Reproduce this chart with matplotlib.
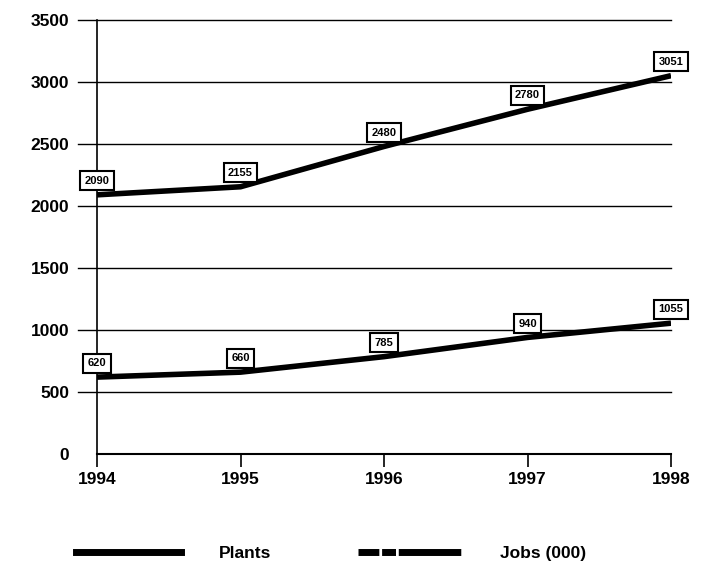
import matplotlib
matplotlib.use("Agg")
import matplotlib.pyplot as plt
from matplotlib.lines import Line2D

plt.rcParams['font.family'] = ['Liberation Sans', 'DejaVu Sans']

years = [1994, 1995, 1996, 1997, 1998]
plants = [2090, 2155, 2480, 2780, 3051]
jobs = [620, 660, 785, 940, 1055]
yticks = [0, 500, 1000, 1500, 2000, 2500, 3000, 3500]

fig = plt.figure(figsize=(7.05, 5.81), dpi=100)
ax = fig.add_axes([0.1376, 0.2186, 0.8142, 0.747])

# horizontal grid, extending a little left of the axis
for v in yticks[1:]:
    ax.plot([1993.87, 1998], [v, v], color='black', lw=1.0, clip_on=False, zorder=1)

ax.plot(years, plants, color='black', lw=4, solid_capstyle='butt', zorder=3)
ax.plot(years, jobs, color='black', lw=4, solid_capstyle='butt', zorder=3)

for series in (plants, jobs):
    for x, y in zip(years, series):
        ax.annotate(str(y), (x, y), xytext=(0, 10), textcoords='offset points',
                    ha='center', va='center', fontsize=8, fontweight='bold', zorder=4,
                    bbox=dict(boxstyle='square,pad=0.4', fc='white', ec='black', lw=1.5))

ax.set_xlim(1994, 1998)
ax.set_ylim(0, 3500)
ax.set_xticks(years)
ax.set_yticks(yticks)
ax.tick_params(axis='x', direction='out', length=9, width=1.2, pad=4, labelsize=12.5)
ax.tick_params(axis='y', length=0, pad=20, labelsize=12.5)
for lab in ax.get_xticklabels() + ax.get_yticklabels():
    lab.set_fontweight('bold')

for s in ['top', 'right']:
    ax.spines[s].set_visible(False)
ax.spines['left'].set_linewidth(1.2)
ax.spines['bottom'].set_linewidth(1.5)

handles = [Line2D([], [], color='black', lw=5),
           Line2D([], [], color='black', lw=5, linestyle=(0, (3, 0.4, 2, 0.4, 9, 0.4, 9, 0.4)))]
fig.legend(handles, ['Plants', 'Jobs (000)'], loc='center', bbox_to_anchor=(0.47, 0.048),
           ncol=2, frameon=False, handlelength=6, handletextpad=2.2, columnspacing=5,
           prop={'weight': 'bold', 'size': 12.5})

fig.savefig('out.png', dpi=100)
